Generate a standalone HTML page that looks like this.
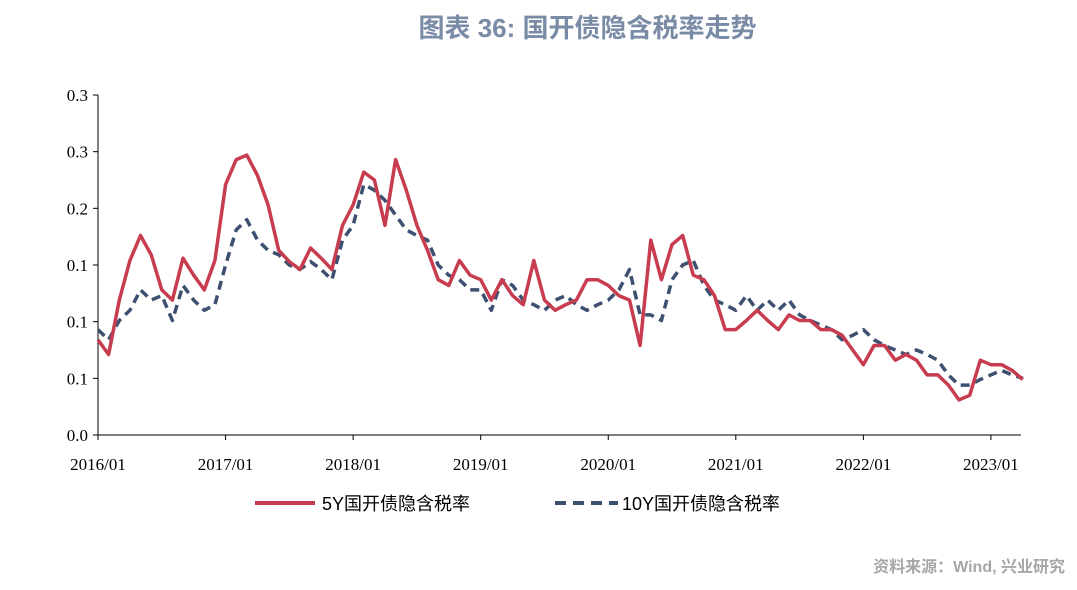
<!DOCTYPE html>
<html><head><meta charset="utf-8">
<style>
body{margin:0;background:#fff;}
#wrap{position:relative;width:1077px;height:590px;overflow:hidden;font-family:"Liberation Serif","Noto Serif CJK SC",serif;}
#title{position:absolute;left:0;width:1175px;top:8px;text-align:center;font:bold 26px "Liberation Sans","Noto Sans CJK SC",sans-serif;color:#7a8ba5;}
#src{position:absolute;right:12px;top:553px;font:bold 16px "Liberation Sans","Noto Sans CJK SC",sans-serif;color:#a6a6a6;}
</style></head><body>
<div id="wrap">
<div id="title">图表 36: 国开债隐含税率走势</div>
<svg id="chart" width="1077" height="590" style="position:absolute;left:0;top:0"></svg>
<div id="src">资料来源：Wind, 兴业研究</div>
</div>
<script>
const yTicks=[0,0.05,0.1,0.15,0.2,0.25,0.3];
const xLabels=["2016/01","2017/01","2018/01","2019/01","2020/01","2021/01","2022/01","2023/01"];
const series5Y=[.084,.071,.119,.154,.176,.159,.128,.119,.156,.141,.128,.154,
.221,.243,.247,.229,.203,.163,.153,.146,.165,.156,.146,.185,
.203,.232,.225,.185,.243,.216,.185,.163,.137,.132,.154,.141,
.137,.119,.137,.123,.115,.154,.119,.110,.115,.119,.137,.137,
.132,.123,.119,.079,.172,.137,.168,.176,.141,.137,.123,.093,
.093,.101,.110,.101,.093,.106,.101,.101,.093,.093,.088,.075,
.062,.079,.079,.066,.071,.066,.053,.053,.044,.031,.035,.066,
.062,.062,.057,.049];
const series10Y=[.093,.084,.101,.110,.128,.119,.123,.101,.132,.119,.110,.115,
.150,.181,.190,.172,.163,.159,.150,.146,.153,.146,.137,.172,
.185,.221,.216,.207,.194,.181,.176,.172,.150,.141,.137,.128,
.128,.110,.137,.132,.119,.115,.110,.119,.123,.115,.110,.115,
.119,.128,.146,.106,.106,.101,.137,.150,.154,.132,.119,.115,
.110,.123,.110,.119,.110,.119,.106,.101,.097,.093,.084,.088,
.093,.084,.079,.075,.071,.075,.071,.066,.053,.044,.044,.049,
.053,.057,.053,.050];
const NS="http://www.w3.org/2000/svg";
const svg=document.getElementById('chart');
const X0=98,Y0=435,YT=95,PXM=10.63;
const xs=m=>X0+m*PXM;
const ys=v=>Y0-(v/0.3)*(Y0-YT);
function el(t,a){const e=document.createElementNS(NS,t);for(const k in a)e.setAttribute(k,a[k]);svg.appendChild(e);return e;}
let ax=el('line',{x1:X0,y1:YT,x2:X0,y2:Y0,stroke:'#000','stroke-width':1});


let bx=el('line',{x1:X0,y1:Y0,x2:1021,y2:Y0,stroke:'#000','stroke-width':1});


yTicks.forEach(v=>{
 const y=ys(v);
 let t=el('line',{x1:X0-5,y1:y,x2:X0,y2:y,stroke:'#000'});
 
 
 let l=el('text',{x:X0-10,y:y+6,'text-anchor':'end','font-size':17,fill:'#000'});
 l.textContent=v.toFixed(1);
 
 
});
xLabels.forEach((s,i)=>{
 const x=xs(i*12);
 let t=el('line',{x1:x,y1:Y0,x2:x,y2:Y0+5,stroke:'#000'});
 
 
 let l=el('text',{x:x,y:Y0+35,'text-anchor':'middle','font-size':17,fill:'#000'});
 l.textContent=s;
 
 
});
function path(arr){return arr.map((v,i)=>(i?'L':'M')+xs(i).toFixed(1)+','+ys(v).toFixed(1)).join(' ');}
let p10=el('path',{d:path(series10Y),fill:'none',stroke:'#3e5070','stroke-width':3.5,'stroke-dasharray':'9,6','stroke-linejoin':'round'});


let p5=el('path',{d:path(series5Y),fill:'none',stroke:'#c83c50','stroke-width':3.5,'stroke-linejoin':'round'});


let g1=el('line',{x1:255,y1:503,x2:315,y2:503,stroke:'#c83c50','stroke-width':4});


let t1=el('text',{x:322,y:510,'font-size':18,fill:'#000','font-family':'"Liberation Sans","Noto Sans CJK SC",sans-serif'});
t1.textContent='5Y国开债隐含税率';


let g2=el('line',{x1:555,y1:503,x2:618,y2:503,stroke:'#3e5070','stroke-width':4,'stroke-dasharray':'11,7'});


let t2=el('text',{x:622,y:510,'font-size':18,fill:'#000','font-family':'"Liberation Sans","Noto Sans CJK SC",sans-serif'});
t2.textContent='10Y国开债隐含税率';


</script>
</body></html>
